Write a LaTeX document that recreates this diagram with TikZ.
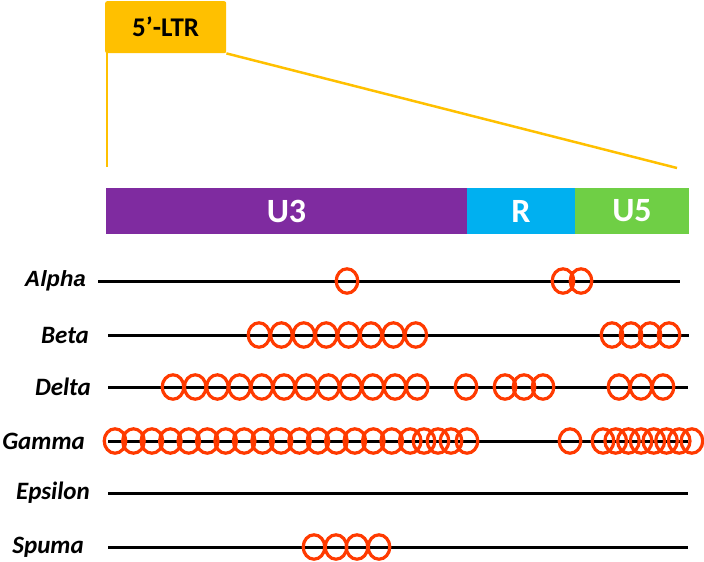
\documentclass[tikz,border=0pt]{standalone}
\usepackage{fontspec}
\setmainfont{Carlito}
\newfontfamily\arialf{Liberation Sans}
\definecolor{ltrgold}{HTML}{FFC000}
\definecolor{u3purple}{HTML}{7F2BA0}
\definecolor{rcyan}{HTML}{00B0F0}
\definecolor{u5green}{HTML}{6FCF45}
\definecolor{siteorange}{HTML}{FF3A00}
\begin{document}
\begin{tikzpicture}[x=1pt,y=-1pt,
  track/.style={line width=3pt, black},
  site/.style={draw=siteorange, line width=3.2pt},
  ltrline/.style={draw=ltrgold, line width=2.5pt},
  lab/.style={font=\bfseries\itshape\fontsize{25}{25}\selectfont, anchor=east, inner sep=0pt},
  seg/.style={draw=none, text=white, font=\bfseries\fontsize{34}{34}\selectfont, inner sep=0pt, outer sep=0pt, minimum height=46pt}
]
\useasboundingbox (0,0) rectangle (704,562);

% LTR box and zoom lines
\node[fill=ltrgold, rounded corners=2pt, minimum width=121pt, minimum height=52pt, inner sep=0pt,
      font=\bfseries\fontsize{27}{27}\selectfont, anchor=north west] (ltr) at (105,1) {5’-LTR};
\coordinate (lb) at (107,167);
\coordinate (rb) at (677,168);
\draw[ltrline] ([xshift=2pt]ltr.south west) -- (lb);
\draw[ltrline] (ltr.south east) -- (rb);

% LTR segments
\node[seg, fill=u3purple, minimum width=361pt, anchor=north west] (u3) at (106,188) {U3};
\node[seg, fill=rcyan, minimum width=108pt, anchor=west] (r) at (u3.east) {R};
\node[seg, fill=u5green, minimum width=114pt, anchor=west] (u5) at (r.east) {U5};

% Alpha
\node[lab, font=\arialf\bfseries\itshape\fontsize{22}{22}\selectfont] (alpha) at (86,281) {Alpha};
\coordinate (alphaL) at (98,281); \coordinate (alphaR) at (680,281);
\draw[track] (alphaL) -- (alphaR);
\foreach \x in {347,563,581} \draw[site] (\x,281) ellipse [x radius=10.8pt, y radius=12.2pt];

% Beta
\node[lab] (beta) at (89,335) {Beta};
\coordinate (betaL) at (108,335); \coordinate (betaR) at (689,335);
\draw[track] (betaL) -- (betaR);
\foreach \k in {0,...,7} \draw[site] (259+22.4*\k,335) ellipse [x radius=10.8pt, y radius=12.2pt];
\foreach \x in {612,631,650,669} \draw[site] (\x,335) ellipse [x radius=10.8pt, y radius=12.2pt];

% Delta
\node[lab] (delta) at (91,387) {Delta};
\coordinate (deltaL) at (108,387); \coordinate (deltaR) at (688,387);
\draw[track] (deltaL) -- (deltaR);
\foreach \k in {0,...,11} \draw[site] (173+22.2*\k,387) ellipse [x radius=10.8pt, y radius=12.2pt];
\foreach \x in {466,505,524,543,619,641,663} \draw[site] (\x,387) ellipse [x radius=10.8pt, y radius=12.2pt];

% Gamma
\node[lab] (gamma) at (85,441) {Gamma};
\coordinate (gammaL) at (108,441); \coordinate (gammaR) at (688,441);
\draw[track] (gammaL) -- (gammaR);
\foreach \k in {0,...,16} \draw[site] (115+18.45*\k,441) ellipse [x radius=10.8pt, y radius=12.2pt];
\foreach \x in {424,438,451,467,570} \draw[site] (\x,441) ellipse [x radius=10.8pt, y radius=12.2pt];
\foreach \k in {0,...,7} \draw[site] (603+12.7*\k,441) ellipse [x radius=10.8pt, y radius=12.2pt];

% Epsilon
\node[lab] (epsilon) at (90,493) {Epsilon};
\coordinate (epsL) at (108,493); \coordinate (epsR) at (688,493);
\draw[track] (epsL) -- (epsR);

% Spuma
\node[lab] (spuma) at (84,547) {Spuma};
\coordinate (spL) at (108,547); \coordinate (spR) at (688,547);
\draw[track] (spL) -- (spR);
\foreach \x in {314,336,357,379} \draw[site] (\x,547) ellipse [x radius=10.8pt, y radius=12.2pt];
\end{tikzpicture}
\end{document}
